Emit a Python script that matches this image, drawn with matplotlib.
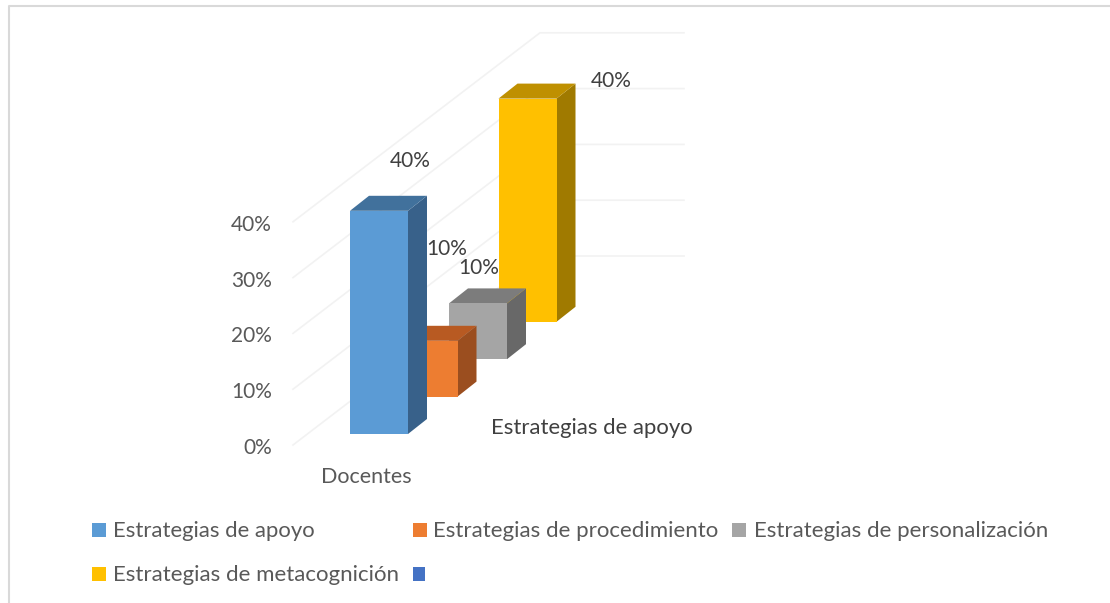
import matplotlib
matplotlib.use('Agg')
import matplotlib.pyplot as plt
from matplotlib.patches import Polygon, Rectangle

# datos del grafico
series = ['Estrategias de apoyo', 'Estrategias de procedimiento',
          'Estrategias de personalización', 'Estrategias de metacognición']
valores = [40, 10, 10, 40]
colores = ['#5B9BD5', '#ED7D31', '#A5A5A5', '#FFC000']
tapas = ['#41719C', '#B85A22', '#7C7C7C', '#BF9000']
lados = ['#38618A', '#9B4E1F', '#686868', '#A07A00']
yticks = [0, 10, 20, 30, 40]
ytick_labels = ['0%', '10%', '20%', '30%', '40%']
etiquetas = ['40%', '10%', '10%', '40%']
cat_x = 'Docentes'
cat_z = 'Estrategias de apoyo'

# escala de la proyeccion (pixeles)
Y0 = 445.0
PX_POR_UNIDAD = 5.58
DX, DY = 49.5, -37.4      # separacion entre series en profundidad
ANCHO = 58
LADO_X, LADO_Y = 19, -15
X_BARRA, Y_BARRA = 350, 434

plt.rcParams['font.family'] = ['Lato', 'DejaVu Sans']
fig = plt.figure(figsize=(11.10, 6.03), dpi=100)
ax = fig.add_axes([0, 0, 1, 1])
ax.set_xlim(0, 1110)
ax.set_ylim(603, 0)
ax.axis('off')

# marco
ax.plot([9, 9, 1110], [603, 6, 6], color='#D9D9D9', lw=1.5)

# rejilla
for t in yticks:
    y = Y0 - t * PX_POR_UNIDAD
    ax.plot([293, 540, 684], [y, y - 189, y - 189], color='#F2F2F2', lw=1.2, zorder=1)

# barras, de atras hacia adelante
for i in range(len(valores) - 1, -1, -1):
    x0 = X_BARRA + i * DX
    base = Y_BARRA + i * DY
    h = valores[i] * PX_POR_UNIDAD
    top = base - h
    z = 5 + (len(valores) - i)
    ax.add_patch(Polygon([(x0 + ANCHO, base), (x0 + ANCHO + LADO_X, base + LADO_Y),
                          (x0 + ANCHO + LADO_X, top + LADO_Y), (x0 + ANCHO, top)],
                         fc=lados[i], ec='none', zorder=z))
    ax.add_patch(Polygon([(x0, top), (x0 + LADO_X, top + LADO_Y),
                          (x0 + ANCHO + LADO_X, top + LADO_Y), (x0 + ANCHO, top)],
                         fc=tapas[i], ec='none', zorder=z))
    ax.add_patch(Rectangle((x0, top), ANCHO, h, fc=colores[i], ec='none', zorder=z))

# textos de ejes
for t, lab in zip(yticks, ytick_labels):
    ax.text(272, Y0 - t * PX_POR_UNIDAD + 3, lab, ha='right', va='center', fontsize=15, color='#595959')
ax.text(366, 477, cat_x, ha='center', va='center', fontsize=15.5, color='#595959')
ax.text(592, 428, cat_z, ha='center', va='center', fontsize=15.9, color='#404040', zorder=20)

# etiquetas de datos
pos_etq = [(410, 161), (447, 249), (479, 268), (611, 81)]
for (x, y), lab in zip(pos_etq, etiquetas):
    ax.text(x, y, lab, ha='center', va='center', fontsize=15, color='#404040', zorder=20)

# leyenda
pos_ley = [(92, 523, 113), (413, 523, 433), (732, 523, 754), (92, 567, 113)]
tam_ley = [15.9, 16.0, 16.0, 16.0]
for (xc, yc, xt), nombre, c, tam in zip(pos_ley, series, colores, tam_ley):
    ax.add_patch(Rectangle((xc, yc), 14, 14, fc=c, ec='none'))
    ax.text(xt, yc + 8, nombre, ha='left', va='center', fontsize=tam, color='#595959')
ax.add_patch(Rectangle((413, 567), 12, 14, fc='#4472C4', ec='none'))

fig.savefig('out.png', dpi=100)
